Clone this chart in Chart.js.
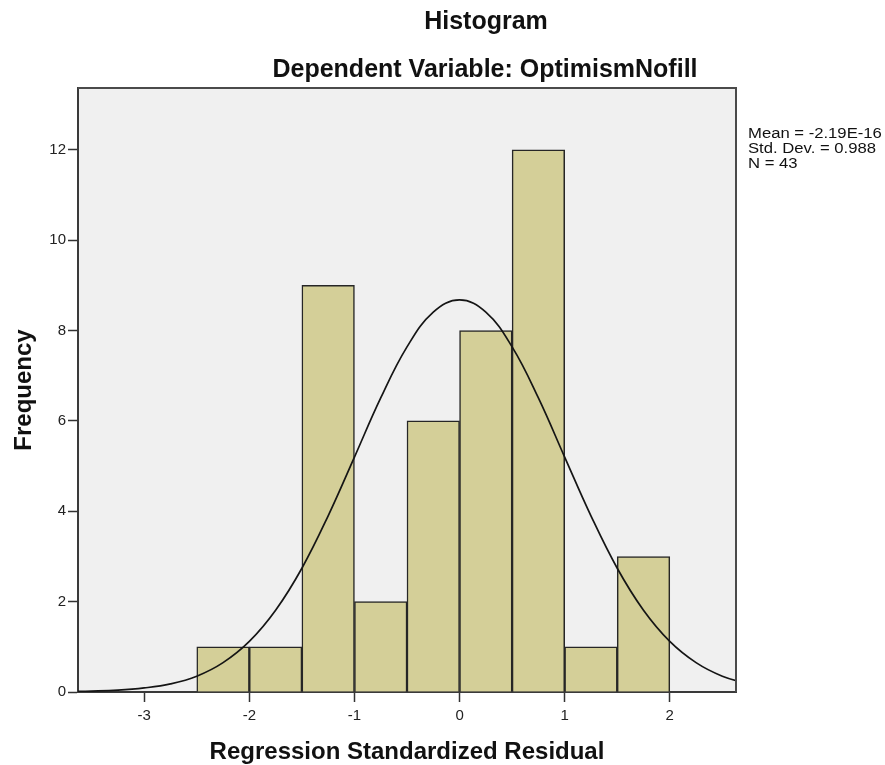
<!DOCTYPE html>
<html lang="en">
<head>
<meta charset="UTF-8">
<title>Histogram</title>
<script src="https://cdn.jsdelivr.net/npm/chart.js"></script>
<style>
    body { margin: 0; background: #fff; }
    .chart-container { position: relative; width: 885px; height: 765px; }
</style>
</head>
<body>
<div class="chart-container">
    <canvas id="histChart"></canvas>
</div>
<script>
    // bins of width 0.5, given by their centres
    const binCenters = [-2.25, -1.75, -1.25, -0.75, -0.25, 0.25, 0.75, 1.25, 1.75];
    const frequencies = [1, 1, 9, 2, 6, 8, 12, 1, 3];

    // normal curve
    const curveX = [-3.75, -3.5, -3.25, -3, -2.75, -2.5, -2.25, -2, -1.75, -1.5, -1.25, -1, -0.75, -0.5, -0.25,
                    0, 0.25, 0.5, 0.75, 1, 1.25, 1.5, 1.75, 2, 2.25, 2.5, 2.75];
    const curveY = [0.01, 0.02, 0.04, 0.09, 0.18, 0.35, 0.65, 1.12, 1.81, 2.74, 3.9, 5.2, 6.51, 7.64, 8.41,
                    8.68, 8.41, 7.64, 6.51, 5.2, 3.9, 2.74, 1.81, 1.12, 0.65, 0.35, 0.18];

    const xTicks = [-3, -2, -1, 0, 1, 2];
    const yTicks = [0, 2, 4, 6, 8, 10, 12];

    const statLines = ['Mean = -2.19E-16', 'Std. Dev. = 0.988', 'N = 43'];

    const FONT = "'Liberation Sans', Arial, sans-serif";

    const decorPlugin = {
        id: 'decor',
        beforeDraw(chart) {
            const { ctx, chartArea: a } = chart;
            ctx.save();
            ctx.fillStyle = '#f0f0f0';
            ctx.fillRect(a.left, a.top, a.right - a.left, a.bottom - a.top);
            ctx.restore();
        },
        afterDraw(chart) {
            const { ctx, chartArea: a } = chart;
            ctx.save();
            // top and right frame
            ctx.strokeStyle = '#4a4a4a';
            ctx.lineWidth = 2;
            ctx.beginPath();
            ctx.moveTo(a.left, a.top);
            ctx.lineTo(a.right, a.top);
            ctx.lineTo(a.right, a.bottom);
            ctx.stroke();

            ctx.fillStyle = '#111';
            ctx.textAlign = 'center';
            ctx.textBaseline = 'alphabetic';
            ctx.font = 'bold 25px ' + FONT;
            ctx.fillText('Histogram', 486, 29);
            ctx.fillText('Dependent Variable: OptimismNofill', 485, 77);
            ctx.font = 'bold 24px ' + FONT;
            ctx.fillText('Regression Standardized Residual', (a.left + a.right) / 2, 759);

            ctx.save();
            ctx.translate(31, (a.top + a.bottom) / 2);
            ctx.rotate(-Math.PI / 2);
            ctx.fillText('Frequency', 0, 0);
            ctx.restore();

            // stats box text is wide and short in the original
            ctx.textAlign = 'left';
            ctx.font = '14px ' + FONT;
            statLines.forEach((t, i) => {
                ctx.save();
                ctx.translate(748, 138 + i * 15);
                ctx.scale(1.19, 1);
                ctx.fillText(t, 0, 0);
                ctx.restore();
            });
            ctx.restore();
        }
    };

    const ctx = document.getElementById('histChart').getContext('2d');
    new Chart(ctx, {
        type: 'bar',
        data: {
            datasets: [{
                type: 'line',
                data: curveX.map((x, i) => ({ x: x, y: curveY[i] })),
                borderColor: '#151515',
                borderWidth: 1.7,
                pointRadius: 0,
                tension: 0.4,
                fill: false,
                order: 0
            }, {
                type: 'bar',
                data: binCenters.map((x, i) => ({ x: x, y: frequencies[i] })),
                backgroundColor: '#d4cf98',
                borderColor: '#262626',
                borderWidth: 1.5,
                barPercentage: 1,
                categoryPercentage: 1,
                order: 1
            }]
        },
        options: {
            responsive: true,
            maintainAspectRatio: false,
            animation: false,
            layout: { padding: { top: 88, right: 149, left: 0, bottom: 0 } },
            plugins: {
                legend: { display: false },
                tooltip: { enabled: false }
            },
            scales: {
                x: {
                    type: 'linear',
                    min: -3.63,
                    max: 2.63,
                    offset: false,
                    afterBuildTicks: s => { s.ticks = xTicks.map(v => ({ value: v })); },
                    afterFit: s => { s.height = 73; },
                    grid: { drawOnChartArea: false, offset: false, tickLength: 10, tickColor: '#333', tickWidth: 1.5 },
                    border: { display: true, color: '#3a3a3a', width: 2 },
                    ticks: { color: '#222', font: { family: FONT, size: 15 }, padding: 5, maxRotation: 0 }
                },
                y: {
                    min: 0,
                    max: 13.37,
                    afterBuildTicks: s => { s.ticks = yTicks.map(v => ({ value: v })); },
                    afterFit: s => { s.width = 78; },
                    grid: { drawOnChartArea: false, tickLength: 10, tickColor: '#333', tickWidth: 1.5 },
                    border: { display: true, color: '#3a3a3a', width: 2 },
                    ticks: { color: '#222', font: { family: FONT, size: 15 }, padding: 2 }
                }
            }
        },
        plugins: [decorPlugin]
    });
</script>
</body>
</html>
